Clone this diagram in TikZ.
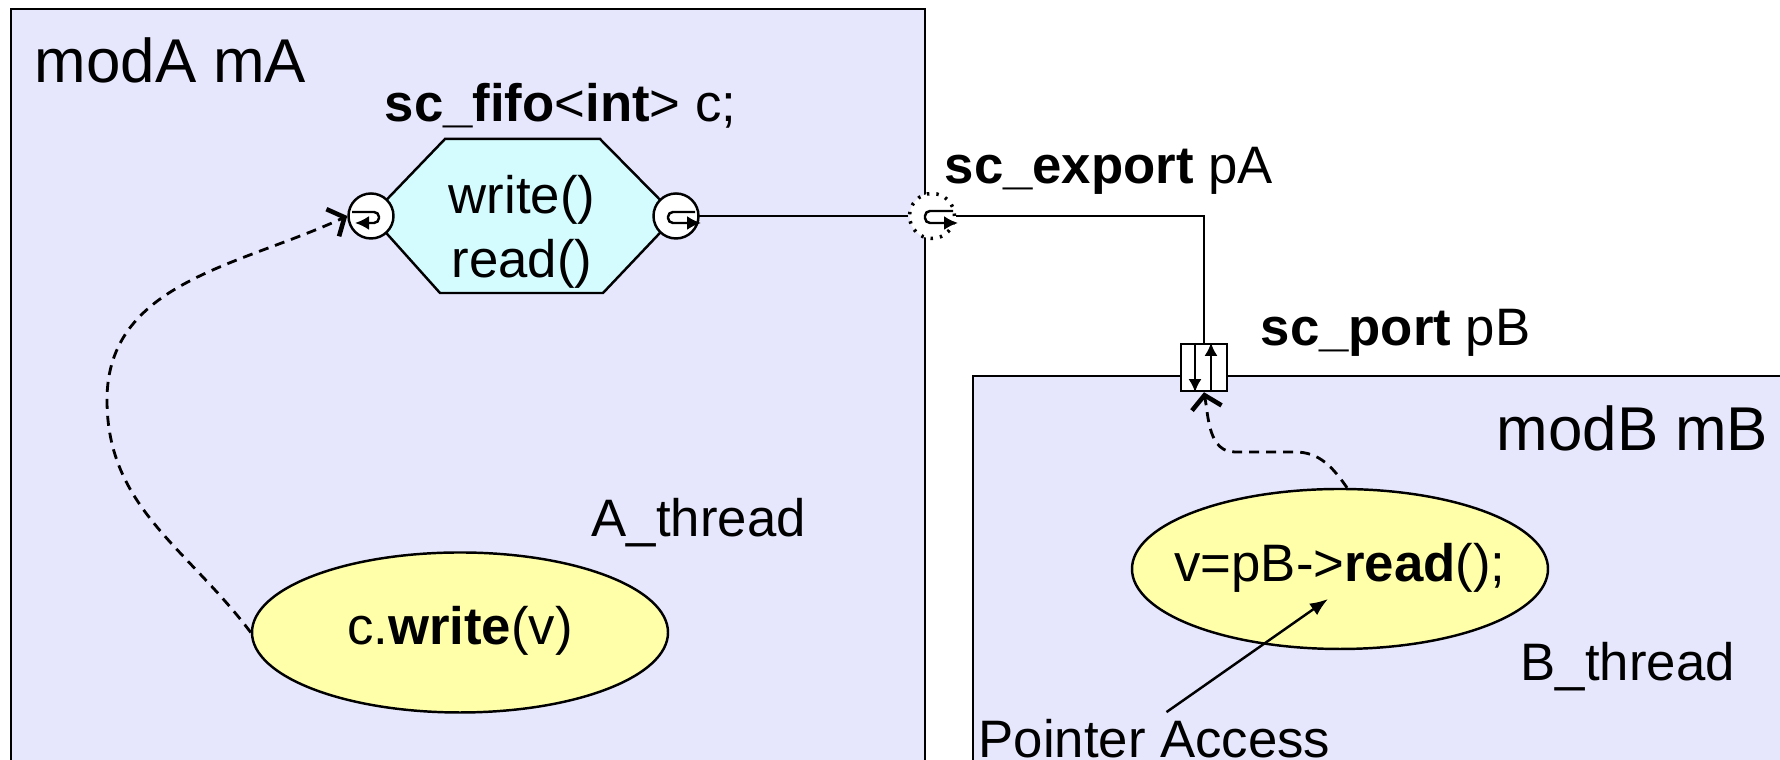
\documentclass[tikz,border=0pt]{standalone}
\usepackage{fontspec}
\setmainfont{Liberation Sans}
\usetikzlibrary{shapes.geometric,arrows.meta}
\definecolor{modfill}{RGB}{230,230,252}
\definecolor{fifofill}{RGB}{212,252,255}
\definecolor{thrfill}{RGB}{255,255,170}
\begin{document}
\begin{tikzpicture}[every node/.style={inner sep=0pt, font=\fontsize{15}{18}\selectfont},
        big/.style={font=\fontsize{17.6}{21}\selectfont},
        module/.style={draw, line width=0.7pt, fill=modfill},
        thread/.style={shape=ellipse, draw, line width=0.7pt, fill=thrfill, minimum width=4.16cm, minimum height=1.6cm, inner xsep=-0.35cm, text height=1em},
        iface/.style={shape=circle, draw, line width=0.7pt, fill=white, minimum size=0.45cm},
        loopsym/.style={line width=0.7pt, rounded corners=0.05cm, -{Latex[length=1.4mm,width=1.4mm]}},
        call/.style={line width=0.8pt, dash pattern=on 1mm off 0.7mm, -{Straight Barb[length=1.3mm,width=3mm,line width=1.3pt]}}]
        \useasboundingbox (0,0) rectangle (17.8,7.6);
        \clip (0,0) rectangle (17.8,7.6);
        % modules
        \draw[module] (0.11,-0.5) rectangle (9.25,7.51);
        \draw[module] (9.73,-0.5) rectangle (18.3,3.84);
        % channel
        \coordinate (hexL) at (3.71,5.44);
        \coordinate (hexR) at (6.76,5.44);
        \draw[line width=0.7pt, fill=fifofill] (hexL) -- (4.45,6.21) -- (6.00,6.21) -- (hexR) -- (6.03,4.67) -- (4.40,4.67) -- cycle;
        \node[align=center] (ops) at (5.22,5.28) {write()\\read()};
        % connections
        \node[iface, draw=none, fill=none] (expA) at (9.32,5.44) {};
        \node[draw, line width=0.7pt, fill=white, minimum width=0.46cm, minimum height=0.47cm] (pB) at (12.04,3.925) {};
        \draw[line width=0.7pt] (hexR) -- (expA);
        \draw[line width=0.7pt] (expA) -| (pB);
        \node[iface, dotted, line width=1pt] (expring) at (expA) {};
        \node[iface] (portL) at (hexL) {};
        \node[iface] (portR) at (hexR) {};
        \draw[loopsym, shift={(portL)}] (-0.19,0.04) -- (0.08,0.04) -- (0.08,-0.07) -- (-0.16,-0.07);
        \draw[loopsym, shift={(portR)}] (0.19,0.04) -- (-0.08,0.04) -- (-0.08,-0.07) -- (0.25,-0.07);
        \draw[loopsym, shift={(expA)}] (0.21,0.05) -- (-0.07,0.05) -- (-0.07,-0.07) -- (0.26,-0.07);
        \draw[line width=0.7pt, -{Latex[length=1.3mm,width=1.3mm]}] ([xshift=-0.09cm]pB.north) -- ([xshift=-0.09cm]pB.south);
        \draw[line width=0.7pt, -{Latex[length=1.3mm,width=1.3mm]}] ([xshift=0.07cm]pB.south) -- ([xshift=0.07cm]pB.north);
        % threads
        \node[thread] (wA) at (4.60,1.275) {c.\textbf{write}(v)};
        \node[thread] (rB) at (13.40,1.91) {v=pB->\textbf{read}();};
        % labels
        \node[big, anchor=base west] (modA) at (0.34,6.77) {modA mA};
        \node[anchor=base west] (fifo) at (3.84,6.38) {\textbf{sc\_fifo}<\textbf{int}> c;};
        \node[anchor=base west] (exA) at (9.44,5.76) {\textbf{sc\_export} pA};
        \node[anchor=base west] (prB) at (12.60,4.14) {\textbf{sc\_port} pB};
        \node[big, anchor=base east] (modB) at (17.69,3.09) {modB mB};
        \node[anchor=base west] (thA) at (5.91,2.23) {A\_thread};
        \node[anchor=base west] (thB) at (15.20,0.79) {B\_thread};
        \node[anchor=base west] (ptr) at (9.78,0.02) {Pointer Access};
        % calls
        \draw[call] (wA.west) to[out=127,in=-90] (1.07,3.6) to[out=90,in=205] (portL.west);
        \draw[call] (rB.85) to[out=125,in=0] (12.95,3.08) -- (12.35,3.08) to[out=180,in=-80] (pB.south);
        \coordinate (rdtip) at (13.28,1.61);
        \draw[line width=0.7pt, -{Latex[length=1.8mm,width=1.4mm]}] ([shift={(0.12,0.07)}]ptr.north) -- (rdtip);
    \end{tikzpicture}
\end{document}
